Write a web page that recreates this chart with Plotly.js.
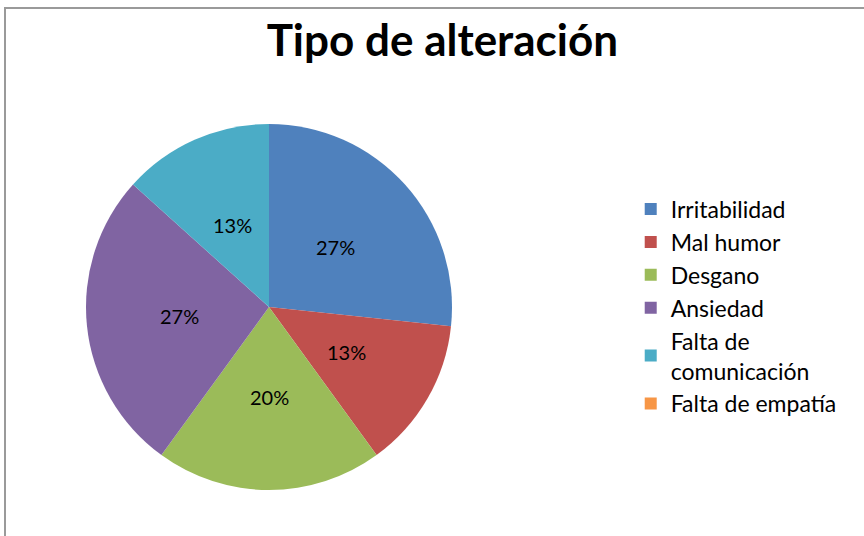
<!DOCTYPE html>
<html>
<head>
<meta charset="utf-8">
<script src="https://cdn.plot.ly/plotly-3.0.1.min.js"></script>
<style>
  html, body { margin: 0; padding: 0; background: #fff; }
  #wrap { position: relative; width: 864px; height: 536px; overflow: hidden; }
  #chart { position: absolute; left: 0; top: 0; width: 864px; height: 536px; }
  #frame { position: absolute; left: 4px; top: 7px; width: 900px; height: 600px;
           border-left: 2px solid #9a9a9a; border-top: 2px solid #9a9a9a; pointer-events: none; }
</style>
</head>
<body>
<div id="wrap">
  <div id="chart"></div>
  <div id="frame"></div>
</div>
<script>
const categories = ["Irritabilidad", "Mal humor", "Desgano", "Ansiedad", "Falta de<br>comunicación", "Falta de empatía"];
const values = [4, 2, 3, 4, 2, 0];
const colors = ["#4F81BD", "#C0504D", "#9BBB59", "#8064A2", "#4BACC6", "#F79646"];
const chartTitle = "Tipo de alteración";

const W = 864, H = 536;
const cx = 269, cy = 307, r = 183;
const labelRadius = 0.49;
const fontFam = "Lato, 'Open Sans', sans-serif";

const trace = {
  type: "pie",
  labels: categories,
  values: values,
  sort: false,
  direction: "clockwise",
  rotation: 0,
  marker: { colors: colors, line: { width: 0 } },
  textinfo: "none",
  domain: { x: [(cx - r) / W, (cx + r) / W], y: [(H - cy - r) / H, (H - cy + r) / H] },
  hoverinfo: "label+percent",
  showlegend: true
};

// percentage labels placed along each slice's bisector, derived from the values
const total = values.reduce((a, b) => a + b, 0);
const annotations = [];
let cum = 0;
values.forEach((v, i) => {
  const start = cum / total, end = (cum + v) / total;
  cum += v;
  if (v <= 0) return;
  const ang = ((start + end) / 2) * 2 * Math.PI;
  const px = cx + Math.sin(ang) * r * labelRadius;
  const py = cy - Math.cos(ang) * r * labelRadius;
  annotations.push({
    xref: "paper", yref: "paper",
    x: px / W, y: (H - py) / H,
    xanchor: "center", yanchor: "middle",
    text: Math.round(v / total * 100) + "%",
    showarrow: false,
    font: { family: fontFam, size: 20, color: "#000" }
  });
});

const layout = {
  width: W, height: H,
  margin: { l: 0, r: 0, t: 0, b: 0 },
  paper_bgcolor: "#fff",
  title: {
    text: "<b>" + chartTitle + "</b>",
    font: { family: fontFam, size: 44, color: "#000" },
    x: 0.512, xanchor: "center", y: 0.925, yanchor: "middle"
  },
  legend: {
    x: 0.73, xanchor: "left", y: 0.65, yanchor: "top",
    font: { family: fontFam, size: 23, color: "#000" },
    tracegroupgap: 0, itemsizing: "constant",
    bgcolor: "rgba(0,0,0,0)"
  },
  annotations: annotations,
  showlegend: true
};

Plotly.newPlot("chart", [trace], layout, { displayModeBar: false, staticPlot: true });
</script>
</body>
</html>
